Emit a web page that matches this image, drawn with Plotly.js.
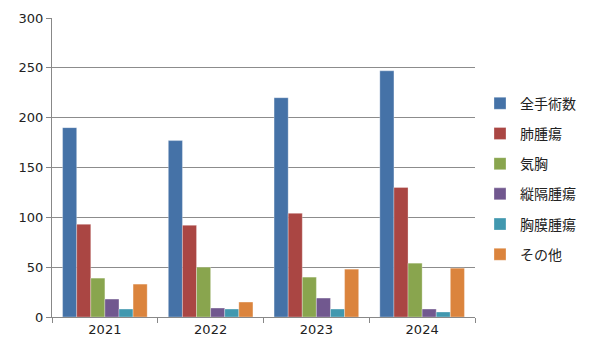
<!DOCTYPE html>
<html><head><meta charset="utf-8">
<script src="https://cdn.plot.ly/plotly-3.0.1.min.js"></script>
<style>body{margin:0;}#c{width:600px;height:359px;}</style>
</head><body><div id="c"></div>
<script>
const years = ['2021','2022','2023','2024'];
const seriesNames = ['全手術数','肺腫瘍','気胸','縦隔腫瘍','胸膜腫瘍','その他'];
const total = [190, 177, 220, 247];
const lung = [93, 92, 104, 130];
const pneumo = [39, 50, 40, 54];
const mediastinal = [18, 9, 19, 8];
const pleural = [8, 8, 8, 5];
const other = [33, 15, 48, 49];
const seriesValues = [total, lung, pneumo, mediastinal, pleural, other];
const colors = ['#4572A7','#AA4643','#89A54E','#71588F','#4198AF','#DB843D'];

const traces = seriesNames.map((n,i)=>({
  type:'bar', name:n, x:years, y:seriesValues[i], legendgroup:'g'+i,
  marker:{color:colors[i], line:{color:'rgba(255,255,255,0.6)', width:0.5}},
  hoverinfo:'skip'
}));

const layout = {
  width:600, height:359,
  margin:{l:52, r:125, t:18, b:42, autoexpand:false},
  paper_bgcolor:'#fff', plot_bgcolor:'#fff',
  font:{family:'"Noto Sans CJK JP", "DejaVu Sans", sans-serif', color:'#222', size:13},
  barmode:'group', bargap:0.2, bargroupgap:0,
  xaxis:{type:'category', showline:true, linecolor:'#888', linewidth:1,
    ticks:'outside', tickson:'boundaries', ticklen:5, tickcolor:'#888',
    showgrid:false, tickfont:{size:13, family:'"DejaVu Sans", sans-serif'}},
  yaxis:{range:[0,300], dtick:50, showline:true, linecolor:'#888', linewidth:1,
    ticks:'outside', ticklen:5, tickcolor:'#888',
    showgrid:true, gridcolor:'#8c8c8c', gridwidth:1, zeroline:false,
    tickfont:{size:13, family:'"DejaVu Sans", sans-serif'}},
  showlegend:true,
  legend:{xref:'container', x:0.8, y:0.767, xanchor:'left', yanchor:'top', tracegroupgap:9,
    font:{size:14, family:'"Noto Sans CJK JP", sans-serif', color:'#222'},
    itemwidth:30, bgcolor:'rgba(0,0,0,0)'}
};
Plotly.newPlot('c', traces, layout, {displayModeBar:false, staticPlot:true});
</script></body></html>
